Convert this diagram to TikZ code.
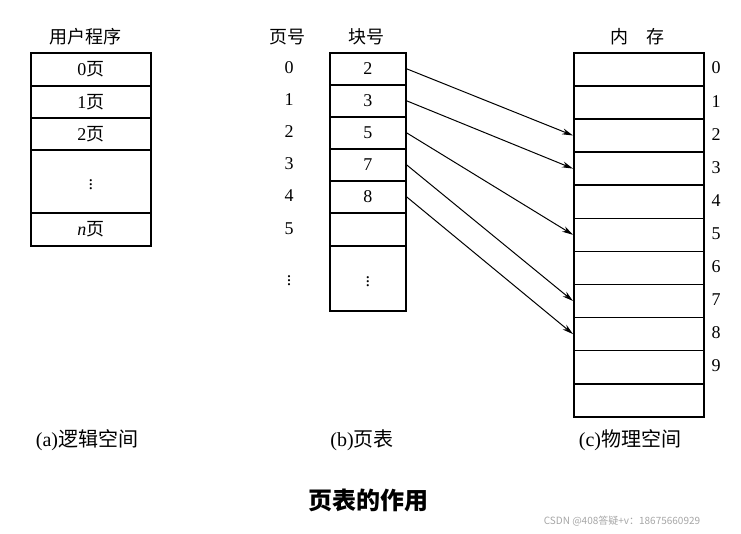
\documentclass[tikz,border=0pt]{standalone}
\usepackage{fontspec}
\setmainfont{Liberation Serif}
\newfontfamily\cjk{Noto Sans CJK SC}
\usetikzlibrary{arrows.meta}

\begin{document}
\begin{tikzpicture}[x=1pt,y=-1pt,
	cell/.style={draw, line width=1.5pt, inner sep=0pt, anchor=north west, font=\fontsize{18}{20}\selectfont},
	lbl/.style={inner sep=0pt, font=\fontsize{18}{20}\selectfont},
	map/.style={-{Stealth[length=11pt,width=6pt]}, line width=1pt}]

	\useasboundingbox (0,0) rectangle (741,533);

	% (a) logical space
	\node (tu) [lbl] at (85, 37) {\cjk 用户程序};
	\node (u0) [cell, minimum width=120pt, minimum height=33pt] at (30, 52) {0\cjk 页};
	\node (u1) [cell, minimum width=120pt, minimum height=32pt] at (30, 85) {1\cjk 页};
	\node (u2) [cell, minimum width=120pt, minimum height=32pt] at (30, 117) {2\cjk 页};
	\node (u3) [cell, minimum width=120pt, minimum height=63pt] at (30, 149) {$\vdots$};
	\node (u4) [cell, minimum width=120pt, minimum height=33pt] at (30, 212) {\textit{n}\cjk 页};

	% (b) page table
	\node (tp) [lbl] at (287, 37) {\cjk 页号};
	\node (tb) [lbl] at (366, 37) {\cjk 块号};
	\foreach \i/\y in {0/68, 1/100, 2/132, 3/164, 4/196, 5/229}
		\node (p\i) [lbl] at (289, \y) {\i};
	\node (p6) [lbl] at (289, 278) {$\vdots$};
	\node (b0) [cell, minimum width=76pt, minimum height=32pt] at (329, 52) {2};
	\node (b1) [cell, minimum width=76pt, minimum height=32pt] at (329, 84) {3};
	\node (b2) [cell, minimum width=76pt, minimum height=32pt] at (329, 116) {5};
	\node (b3) [cell, minimum width=76pt, minimum height=32pt] at (329, 148) {7};
	\node (b4) [cell, minimum width=76pt, minimum height=32pt] at (329, 180) {8};
	\node (b5) [cell, minimum width=76pt, minimum height=33pt] at (329, 212) {};
	\node (b6) [cell, minimum width=76pt, minimum height=65pt] at (329, 245) {$\vdots$};

	% (c) physical memory
	\node (tm) [lbl] at (637, 37) {\cjk 内\quad 存};
	\foreach \i in {0,...,10}
		\node (m\i) [cell, minimum width=130pt, minimum height=33.1pt] at (573, 52+33.1*\i) {};
	\foreach \i in {0,...,9}
		\node (f\i) [lbl] at (716, 68+33.1*\i) {\i};

	\path[map]
	(b0.east) edge (m2.west)
	(b1.east) edge (m3.west)
	(b2.east) edge (m5.west)
	(b3.east) edge (m7.west)
	(b4.east) edge (m8.west);

	% captions
	\node (ca) [lbl, font=\fontsize{20}{22}\selectfont] at (87, 440) {(a)\cjk 逻辑空间};
	\node (cb) [lbl, font=\fontsize{20}{22}\selectfont] at (362, 440) {(b)\cjk 页表};
	\node (cc) [lbl, font=\fontsize{20}{22}\selectfont] at (630, 440) {(c)\cjk 物理空间};
	\node (title) [lbl, font=\fontsize{24}{28}\selectfont\cjk\bfseries] at (368, 500) {页表的作用};
	\node (wm) [lbl, font=\fontsize{10}{12}\selectfont\cjk, text=gray!70] at (622, 521) {CSDN @408答疑+v：18675660929};
\end{tikzpicture}
\end{document}
